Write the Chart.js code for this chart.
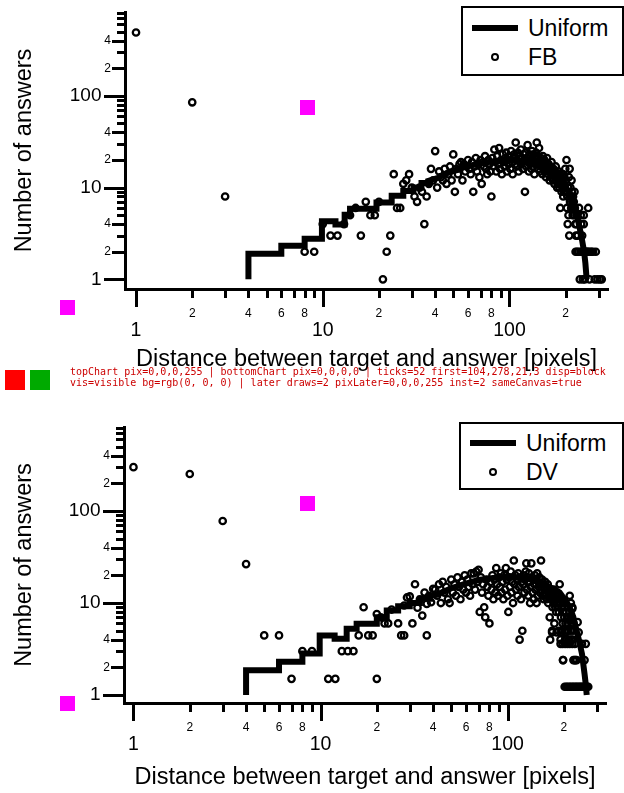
<!DOCTYPE html>
<html>
<head>
<meta charset="utf-8">
<script src="https://cdn.jsdelivr.net/npm/chart.js@4.4.1/dist/chart.umd.min.js"></script>
<style>
  body { margin: 0; background: #fff; width: 624px; height: 793px; position: relative; overflow: hidden; }
  .panel { position: absolute; left: 0; }
  .tick { position: absolute; background: #000; display: block; }
  .legend {
    position: absolute;
    border: 2px solid #000;
    background: #fff;
    box-sizing: border-box;
    font-family: "Liberation Sans", Arial, Helvetica, sans-serif;
    font-size: 23px;
    color: #000;
  }
  .legend .row { position: absolute; left: 0; right: 0; height: 26px; }
  .legend .swatch-line { position: absolute; left: 9px; top: 10px; width: 46px; height: 6px; background: #000; }
  .legend .swatch-dot { position: absolute; left: 28px; top: 9px; width: 4px; height: 4px; border: 2px solid #000; border-radius: 50%; }
  .legend .label { position: absolute; left: 65px; top: 0; line-height: 26px; white-space: nowrap; }
  #dbg { position: absolute; left: 70px; top: 366px; font: 10px monospace; color: #c00; width: 550px; line-height: 11px; }
</style>
</head>
<body>
<canvas id="topChart" class="panel" width="624" height="396" style="top:0"></canvas>
<canvas id="bottomChart" class="panel" width="624" height="397" style="top:396px"></canvas>
<div id="ticks"></div>
<div id="testDiv" style="position:absolute;left:5px;top:370px;width:20px;height:20px;background:#f00"></div>
<span id="testSpan" style="position:absolute;left:30px;top:370px;width:20px;height:20px;background:#0a0;display:block"></span>
<div id="dbg"></div>

<div class="legend" style="left:461px; top:6px; width:163px; height:70px;">
  <div class="row" style="top:7px;"><span class="swatch-line"></span><span class="label">Uniform</span></div>
  <div class="row" style="top:36px;"><span class="swatch-dot"></span><span class="label">FB</span></div>
</div>
<div class="legend" style="left:459px; top:422px; width:165px; height:68px;">
  <div class="row" style="top:6px;"><span class="swatch-line"></span><span class="label">Uniform</span></div>
  <div class="row" style="top:35px;"><span class="swatch-dot"></span><span class="label">DV</span></div>
</div>

<script>
const FONT = '"Liberation Sans", Arial, Helvetica, sans-serif';
const dbg = [];
let drawCalls = 0;

const xTickValues = [1, 2, 3, 4, 5, 6, 7, 8, 9, 10, 20, 30, 40, 50, 60, 70, 80, 90, 100, 200, 300];
const xTickLabels = ['1', '2', '', '4', '', '6', '', '8', '', '10', '2', '', '4', '', '6', '', '8', '', '100', '2', ''];
const yTickValues = [1, 2, 3, 4, 5, 6, 7, 8, 9, 10, 20, 30, 40, 50, 60, 70, 80, 90, 100, 200, 300, 400, 500, 600, 700, 800];
const yTickLabels = ['1', '2', '', '4', '', '', '', '', '', '10', '2', '', '4', '', '', '', '', '', '100', '2', '', '4', '', '', '', ''];
const decades = [1, 10, 100];

const uniTopX = [4, 4, 6, 6, 8, 8, 9.9, 9.9, 11.7, 11.7, 13.1, 13.1, 14, 14, 19.4, 19.4, 23.4, 23.4, 27, 27,
  30.6, 30.6, 33.8, 33.8, 36.7, 36.7, 41.5, 46, 56, 70, 85, 100, 120, 140, 160, 180,
  200, 210, 220, 228, 234, 240, 244, 251, 255, 259];
const uniTopY = [1, 1.9, 1.9, 2.33, 2.33, 2.77, 2.77, 4.3, 4.3, 3.97, 3.97, 5.05, 5.05, 5.9, 5.9, 6.9, 6.9, 8.15, 8.15, 9.2,
  9.2, 10, 10, 11.2, 11.2, 11.8, 12.8, 14.3, 16.5, 18.5, 19.5, 19.8, 19.3, 18, 16, 13.5,
  10.2, 8.6, 6.9, 5.4, 4.2, 3.3, 2.77, 2.0, 1.5, 1.0];

const fbLowDist = [1, 2, 3, 8, 9, 10, 11, 12, 13, 14, 15, 16, 17, 18, 19, 20, 21, 22, 23, 24,
  25, 26, 27, 28, 29, 30, 31, 32, 33, 34, 35, 36, 37, 38, 39, 40];
const fbLowCount = [490, 85, 8, 2, 2, 4, 3, 3, 4, 5, 6, 3, 7, 5, 5, 7, 1, 2, 3, 14,
  6, 6, 11, 12, 14, 10, 8, 7, 10, 9, 4, 8, 11, 16, 12, 25];
const fbMidStart = 41;
const fbMidCount = [
  10, 15, 13, 12, 16, 11, 14, 17, 12, 23,
  9, 16, 14, 18, 19, 12, 18, 15, 17, 20,
  16, 14, 19, 9, 17, 21, 15, 18, 13, 20,
  11, 19, 17, 22, 16, 14, 20, 18, 15, 8,
  21, 17, 26, 19, 15, 22, 18, 27, 16, 20,
  14, 23, 19, 17, 21, 24, 15, 20, 18, 22,
  16, 25, 19, 14, 21, 23, 18, 31, 20, 17,
  24, 15, 22, 19, 26, 18, 21, 16, 23, 20,
  9, 24, 17, 21, 29, 19, 15, 23, 18, 22,
  16, 25, 20, 17, 23, 14, 21, 19, 24, 31,
  18, 22, 16, 27, 20, 15, 21, 17, 19, 14,
  22, 18, 16, 20, 15, 19, 13, 17, 21, 16,
  14, 18, 15, 12, 17, 16, 13, 19, 14, 15,
  12, 16, 14, 11, 15, 13, 17, 12, 14, 10,
  13, 11, 15, 12, 10, 14, 6, 11, 13, 9,
  12, 10, 14, 8, 11, 9, 13, 10, 16, 12,
  9, 20, 6, 8, 4, 10, 5, 13, 3, 16,
  7, 10, 8, 6, 12, 9, 7, 5, 8, 6,
  7, 5, 9, 6, 4];
const fbTailDist = [226, 227, 228, 229, 230, 232, 234, 236, 238, 240, 241, 242, 244, 245, 247, 248, 250, 250, 251, 253,
  255, 258, 261, 264, 265, 268, 270, 275, 280, 286, 290, 296, 305, 312];
const fbTailCount = [2, 3, 4, 5, 2, 3, 2, 6, 1, 2, 5, 4, 2, 3, 1, 2, 4, 5, 2, 1,
  2, 2, 2, 6, 2, 1, 2, 2, 2, 1, 2, 1, 1, 1];

const uniBotX = [4, 4, 6, 6, 8, 8, 9.9, 9.9, 11.9, 11.9, 13.8, 13.8, 15.6, 15.6, 20, 20, 22.6, 22.6, 26, 26,
  30, 30, 34, 34, 38.5, 38.5, 41.7, 50, 58, 70, 87.6, 100, 121, 140, 155, 175,
  190, 205, 215, 225, 234, 242, 250, 258, 262, 265];
const uniBotY = [1, 1.86, 1.86, 2.3, 2.3, 2.82, 2.82, 4.45, 4.45, 4.1, 4.1, 5.27, 5.27, 5.96, 5.96, 7.0, 7.0, 8.3, 8.3, 9.2,
  9.2, 10, 10, 11.1, 11.1, 12, 12.3, 14.5, 16, 17.8, 19, 19.3, 19, 17.5, 16, 14.3,
  13, 10.5, 9, 7, 5, 3.8, 2.8, 1.7, 1.3, 1.0];

const dvLowDist = [1, 2, 3, 4, 5, 6, 7, 8, 9, 11, 12, 13, 14, 15, 16, 17, 18, 19, 20, 20,
  21, 22, 23, 24, 26, 27, 28, 28, 29, 30, 31, 32, 33, 34, 35, 36, 37, 37, 38, 39, 40];
const dvLowCount = [300, 253, 78, 26.5, 4.45, 4.45, 1.5, 3, 3, 1.5, 1.5, 3, 3, 3, 4.45, 9, 4.45, 4.45, 1.5, 7.6,
  7, 6, 6, 8.5, 6, 4.45, 4.45, 9.4, 11.5, 11.8, 6, 16, 8.9, 11, 7.3, 13, 4.45, 9.8, 12, 10.2, 14.3];
const dvMidStart = 41;
const dvMidCount = [
  14, 12, 16, 10, 17, 13, 15, 11, 10, 18,
  13, 16, 12, 19, 15, 11, 17, 14, 20, 13,
  18, 15, 12, 21, 16, 21, 14, 22, 17, 23,
  8, 19, 13, 16, 9, 7, 18, 15, 12, 6,
  17, 14, 20, 11, 18, 13, 24, 16, 12, 19,
  15, 21, 13, 17, 11, 20, 14, 24, 18, 12,
  8, 19, 15, 22, 13, 17, 10, 29, 16, 20,
  14, 18, 12, 21, 15, 4, 19, 11, 17, 5,
  16, 20, 13, 18, 22, 27, 14, 19, 12, 21,
  17, 10, 15, 27, 19, 13, 18, 11, 16, 20,
  14, 18, 10, 21, 12, 17, 15, 19, 13, 16,
  29, 14, 18, 12, 16, 11, 15, 13, 17, 12,
  15, 11, 14, 16, 10, 13, 12, 7, 4, 14,
  11, 13, 5, 9, 12, 10, 14, 6, 11, 9,
  12, 8, 10, 13, 9, 11, 5, 8, 12, 16,
  10, 4, 7, 5, 9, 11, 6, 2.4, 8, 10,
  7, 9, 4, 6, 5, 8, 4, 7, 6, 9,
  5, 7, 4, 8, 12, 6.5, 5, 10, 4, 7,
  6, 9, 4, 5, 6];
const dvTailDist = [192, 197, 203, 209, 215, 222, 229, 250, 262,
  198, 225, 228, 231, 234, 258,
  202, 206, 210, 214, 218, 222, 226, 230, 234, 238, 242, 246, 250, 254, 258, 262, 266, 270,
  173, 183, 194, 205, 240,
  215, 237, 222];
const dvTailCount = [3.6, 3.6, 3.6, 3.6, 3.6, 3.6, 3.6, 3.6, 3.6,
  2.4, 2.4, 2.4, 2.4, 2.4, 2.4,
  1.23, 1.23, 1.23, 1.23, 1.23, 1.23, 1.23, 1.23, 1.23, 1.23, 1.23, 1.23, 1.23, 1.23, 1.23, 1.23, 1.23, 1.23,
  4.8, 4.8, 4.8, 4.8, 4.8,
  6.5, 6.2, 8.7];

function pairs(xs, ys) {
  return xs.map((x, i) => ({ x, y: ys[i] }));
}
function answerPoints(lowDist, lowCount, midStart, midCount, tailDist, tailCount) {
  const mid = midCount.map((c, i) => ({ x: midStart + i, y: c }));
  return [...pairs(lowDist, lowCount), ...mid, ...pairs(tailDist, tailCount)];
}
const isDecade = v => decades.includes(v);
const tickValue = c => (c.tick ? c.tick.value : 0);

const probe = {
  id: 'probe',
  afterDraw(chart) {
    drawCalls++;
    const { ctx, chartArea, scales } = chart;
    ctx.save();
    ctx.fillStyle = '#f0f';
    ctx.fillRect(300, 100, 15, 15);   // inside plot area
    ctx.fillRect(60, 300, 15, 15);    // outside plot area
    ctx.fillStyle = '#000';
    xTickValues.forEach(v => {
      const px = Math.round(scales.x.getPixelForValue(v));
      ctx.fillRect(px - 1, chartArea.bottom, 3, isDecade(v) ? 18 : 9);
    });
    const d = ctx.getImageData(136, Math.round(chartArea.bottom) + 6, 1, 1).data;
    dbg.push(chart.canvas.id + ' pix=' + Array.from(d).join(','));
    ctx.restore();
  }
};

function buildPanel(canvasId, lay, uniform, answers) {
  return new Chart(document.getElementById(canvasId), {
    type: 'scatter',
    data: {
      datasets: [
        { label: 'Uniform', data: uniform, showLine: true, pointRadius: 0, borderColor: '#000',
          borderWidth: 6, borderJoinStyle: 'miter', tension: 0, order: 0 },
        { label: lay.name, data: answers, pointStyle: 'circle', pointRadius: 3.2, borderWidth: 2.3,
          borderColor: '#000', backgroundColor: 'rgba(0,0,0,0)', order: 1 }
      ]
    },
    options: {
      responsive: false, animation: false, events: [],
      layout: { padding: { left: 0, right: lay.right, top: lay.top, bottom: 0 } },
      plugins: { legend: { display: false }, tooltip: { enabled: false } },
      scales: {
        x: {
          type: 'logarithmic', min: lay.xMin, max: lay.xMax,
          grid: { display: false, drawTicks: false, tickLength: 0 },
          border: { display: true, color: '#000', width: 3 },
          afterBuildTicks: s => { s.ticks = xTickValues.map(v => ({ value: v })); },
          afterFit: s => { s.height = lay.xHeight; s.paddingLeft = 0; s.paddingRight = 0; },
          ticks: {
            autoSkip: false, maxRotation: 0, minRotation: 0, padding: 17.5, color: '#000',
            callback: (v, i) => xTickLabels[i],
            font: c => isDecade(tickValue(c))
              ? { family: FONT, size: 19.5, lineHeight: 2.5 }
              : { family: FONT, size: 12, lineHeight: 1.2 }
          },
          title: { display: true, text: 'Distance between target and answer [pixels]', color: '#000',
            font: { family: FONT, size: 23.5 }, padding: { top: 0, bottom: lay.xTitlePad } }
        },
        y: {
          type: 'logarithmic', min: lay.yMin, max: lay.yMax,
          grid: { display: false, drawTicks: false, tickLength: 0 },
          border: { display: true, color: '#000', width: 3 },
          afterBuildTicks: s => { s.ticks = yTickValues.map(v => ({ value: v })); },
          afterFit: s => { s.width = lay.yWidth; s.paddingTop = 0; s.paddingBottom = 0; },
          ticks: {
            autoSkip: false, padding: 14, color: '#000',
            callback: (v, i) => isDecade(yTickValues[i]) ? yTickLabels[i] + '\u2002' : yTickLabels[i],
            font: c => isDecade(tickValue(c)) ? { family: FONT, size: 19 } : { family: FONT, size: 12 }
          },
          title: { display: true, text: 'Number of answers', color: '#000',
            font: { family: FONT, size: 23.5 }, padding: { top: 10, bottom: 0 } }
        }
      }
    },
    plugins: [probe]
  });
}

function addTickMarks(chart, offsetTop) {
  const box = document.getElementById('ticks');
  const { chartArea, scales } = chart;
  const mark = (left, top, width, height) => {
    const d = document.createElement('span');
    d.className = 'tick';
    d.style.cssText = `left:${left}px;top:${top}px;width:${width}px;height:${height}px`;
    box.appendChild(d);
  };
  yTickValues.forEach((v, i) => {
    const py = Math.round(scales.y.getPixelForValue(v));
    const len = isDecade(v) ? 21 : (yTickLabels[i] !== '' ? 13 : 8);
    mark(Math.round(chartArea.left) - len, offsetTop + py - 1, len, 3);
  });
}

let topChart, bottomChart;
try {
  topChart = buildPanel('topChart',
    { name: 'FB', right: 16, top: 12, xHeight: 107, yWidth: 125, xTitlePad: 22,
      xMin: 0.873, xMax: 337, yMin: 0.785, yMax: 820 },
    pairs(uniTopX, uniTopY),
    answerPoints(fbLowDist, fbLowCount, fbMidStart, fbMidCount, fbTailDist, fbTailCount));
  bottomChart = buildPanel('bottomChart',
    { name: 'DV', right: 18, top: 31, xHeight: 90, yWidth: 124, xTitlePad: 1,
      xMin: 0.89, xMax: 336, yMin: 0.819, yMax: 820 },
    pairs(uniBotX, uniBotY),
    answerPoints(dvLowDist, dvLowCount, dvMidStart, dvMidCount, dvTailDist, dvTailCount));
  addTickMarks(topChart, 0);
  addTickMarks(bottomChart, 396);
  const t = document.querySelector('.tick');
  const r = t.getBoundingClientRect();
  dbg.push('ticks=' + document.querySelectorAll('.tick').length + ' first=' + [r.left, r.top, r.width, r.height].join(',')
    + ' disp=' + getComputedStyle(t).display + ' vis=' + getComputedStyle(t).visibility + ' bg=' + getComputedStyle(t).backgroundColor);
} catch (e) { dbg.push('ERR ' + e.message); }
document.getElementById('dbg').textContent = dbg.join(' | ');
setTimeout(() => {
  const c = document.getElementById('topChart');
  const d = c.getContext('2d').getImageData(136, 295, 1, 1).data;
  document.getElementById('dbg').textContent = dbg.join(' | ') + ' | later draws=' + drawCalls
    + ' pixLater=' + Array.from(d).join(',') + ' inst=' + Object.keys(Chart.instances).length
    + ' sameCanvas=' + (topChart && topChart.canvas === c);
}, 400);
</script>
</body>
</html>
